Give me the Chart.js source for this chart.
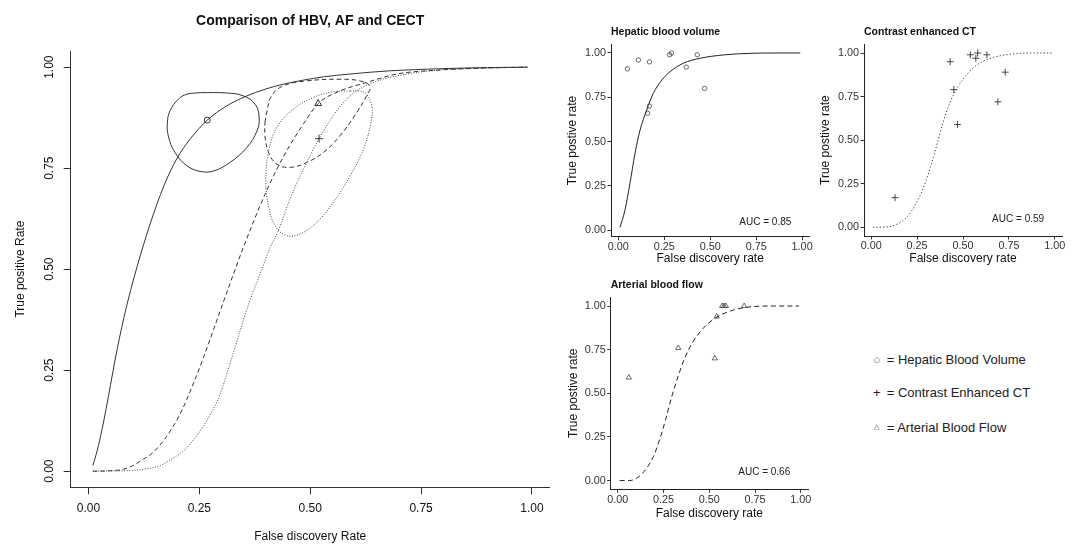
<!DOCTYPE html>
<html>
<head>
<meta charset="utf-8">
<script src="https://cdn.jsdelivr.net/npm/chart.js@4.4.1/dist/chart.umd.min.js"></script>
<style>
  html, body { margin: 0; padding: 0; background: #fff; }
  #page { position: relative; width: 1077px; height: 544px; overflow: hidden; background: #fff;
          font-family: "Liberation Sans", Arial, sans-serif; }
  canvas { position: absolute; }
  .key { position: absolute; left: 886.7px; height: 18px; line-height: 18px; font-size: 13px; color: #222; white-space: nowrap; }
  .sym { position: absolute; left: 871.7px; width: 10px; height: 18px; line-height: 18px; text-align: center; color: #333; }
</style>
</head>
<body>
<div id="page">
  <canvas id="mainChart" width="560" height="544" style="left:0;top:0"></canvas>
  <canvas id="hbvChart" width="260" height="255" style="left:560px;top:15px"></canvas>
  <canvas id="cectChart" width="267" height="255" style="left:810px;top:15px"></canvas>
  <canvas id="afChart" width="260" height="276" style="left:560px;top:268px"></canvas>

  <span class="sym" style="top:350.5px;font-family:'DejaVu Sans';font-size:7px">○</span>
  <span class="key" style="top:350.5px">= Hepatic Blood Volume</span>
  <span class="sym" style="top:383.9px;font-size:13px;color:#222">+</span>
  <span class="key" style="top:383.9px">= Contrast Enhanced CT</span>
  <span class="sym" style="top:418px;font-family:'DejaVu Sans';font-size:7px">△</span>
  <span class="key" style="top:418.5px">= Arterial Blood Flow</span>
</div>
<script>
// ---- values ----
const tickValues = [0, 0.25, 0.5, 0.75, 1];

// main panel: SROC curves
const hbvSrocFdr = [0.01, 0.02, 0.03, 0.04, 0.05, 0.06, 0.07, 0.08, 0.09, 0.1, 0.12, 0.14, 0.17, 0.2, 0.23, 0.268, 0.31, 0.353, 0.4, 0.44, 0.53, 0.59, 0.68, 0.79, 0.9, 0.99];
const hbvSrocTpr = [0.014, 0.052, 0.1, 0.155, 0.215, 0.275, 0.33, 0.38, 0.426, 0.468, 0.545, 0.615, 0.706, 0.775, 0.823, 0.869, 0.903, 0.927, 0.946, 0.958, 0.976, 0.983, 0.991, 0.996, 0.999, 1.0];

const afSrocFdr = [0.01, 0.05, 0.08, 0.101, 0.124, 0.139, 0.169, 0.207, 0.237, 0.259, 0.282, 0.304, 0.327, 0.349, 0.376, 0.398, 0.425, 0.455, 0.485, 0.518, 0.567, 0.627, 0.695, 0.793, 0.9, 0.99];
const afSrocTpr = [0.0, 0.001, 0.005, 0.014, 0.03, 0.04, 0.075, 0.142, 0.218, 0.28, 0.35, 0.418, 0.488, 0.553, 0.628, 0.685, 0.748, 0.808, 0.86, 0.91, 0.941, 0.962, 0.983, 0.993, 0.998, 1.0];

const cectSrocFdr = [0.01, 0.08, 0.12, 0.162, 0.18, 0.214, 0.229, 0.267, 0.297, 0.319, 0.342, 0.364, 0.387, 0.41, 0.428, 0.455, 0.492, 0.52, 0.552, 0.59, 0.642, 0.718, 0.793, 0.9, 0.99];
const cectSrocTpr = [0.0, 0.001, 0.004, 0.014, 0.025, 0.05, 0.067, 0.125, 0.191, 0.265, 0.348, 0.422, 0.488, 0.554, 0.595, 0.675, 0.764, 0.823, 0.88, 0.929, 0.962, 0.983, 0.993, 0.998, 1.0];

// main panel: confidence regions
const hbvRegionFdr = [0.252, 0.312, 0.349, 0.376, 0.385, 0.38, 0.357, 0.319, 0.282, 0.252, 0.222, 0.195, 0.18, 0.178, 0.184, 0.203, 0.222, 0.252];
const hbvRegionTpr = [0.937, 0.936, 0.929, 0.908, 0.875, 0.842, 0.801, 0.764, 0.743, 0.742, 0.756, 0.789, 0.83, 0.863, 0.892, 0.921, 0.933, 0.937];

const afRegionFdr = [0.398, 0.402, 0.413, 0.44, 0.492, 0.567, 0.612, 0.635, 0.627, 0.605, 0.567, 0.53, 0.492, 0.455, 0.425, 0.406, 0.398, 0.398];
const afRegionTpr = [0.863, 0.888, 0.929, 0.954, 0.966, 0.97, 0.966, 0.952, 0.929, 0.888, 0.83, 0.789, 0.764, 0.752, 0.76, 0.789, 0.83, 0.863];

const cectRegionFdr = [0.59, 0.552, 0.507, 0.462, 0.425, 0.406, 0.4, 0.406, 0.421, 0.447, 0.477, 0.515, 0.552, 0.59, 0.62, 0.637, 0.639, 0.627, 0.612, 0.59];
const cectRegionTpr = [0.941, 0.939, 0.925, 0.896, 0.851, 0.789, 0.715, 0.657, 0.607, 0.583, 0.587, 0.616, 0.665, 0.731, 0.797, 0.863, 0.904, 0.933, 0.941, 0.941];

// summary points: HBV, CECT, AF
const summaryFdr = [0.268, 0.52, 0.518];
const summaryTpr = [0.869, 0.823, 0.91];

// small panels: study points and fitted curves
const hbvStudyFdr = [0.05, 0.11, 0.17, 0.28, 0.29, 0.37, 0.43, 0.47, 0.17, 0.16];
const hbvStudyTpr = [0.91, 0.96, 0.95, 0.99, 1.0, 0.92, 0.99, 0.8, 0.7, 0.66];
const hbvFitFdr = [0.01, 0.037, 0.064, 0.0915, 0.119, 0.155, 0.191, 0.237, 0.282, 0.354, 0.445, 0.572, 0.717, 0.85, 0.99];
const hbvFitTpr = [0.015, 0.113, 0.264, 0.433, 0.565, 0.678, 0.772, 0.847, 0.894, 0.942, 0.97, 0.989, 0.998, 1.0, 1.0];

const cectStudyFdr = [0.13, 0.43, 0.45, 0.47, 0.54, 0.57, 0.58, 0.63, 0.69, 0.73];
const cectStudyTpr = [0.17, 0.95, 0.79, 0.59, 0.99, 0.97, 1.0, 0.99, 0.72, 0.89];
const cectFitFdr = [0.01, 0.08, 0.136, 0.19, 0.236, 0.28, 0.318, 0.355, 0.39, 0.427, 0.472, 0.518, 0.573, 0.645, 0.736, 0.88, 0.99];
const cectFitTpr = [0.0, 0.002, 0.015, 0.054, 0.12, 0.215, 0.33, 0.463, 0.597, 0.711, 0.806, 0.873, 0.93, 0.968, 0.99, 1.0, 1.0];

const afStudyFdr = [0.06, 0.33, 0.53, 0.54, 0.57, 0.58, 0.59, 0.69];
const afStudyTpr = [0.59, 0.76, 0.7, 0.94, 1.0, 1.0, 1.0, 1.0];
const afFitFdr = [0.01, 0.063, 0.118, 0.158, 0.195, 0.228, 0.261, 0.292, 0.329, 0.365, 0.411, 0.466, 0.53, 0.613, 0.704, 0.85, 0.99];
const afFitTpr = [0.0, 0.0, 0.025, 0.072, 0.139, 0.234, 0.349, 0.472, 0.596, 0.701, 0.796, 0.872, 0.93, 0.971, 0.993, 1.0, 1.0];

const aucLabels = ['AUC = 0.85', 'AUC = 0.59', 'AUC = 0.66'];

// ---- helpers ----
const FONT = '"Liberation Sans", Arial, sans-serif';
const pts = (xs, ys) => xs.map((x, i) => ({ x: x, y: ys[i] }));
const setTicks = values => scale => { scale.ticks = values.map(v => ({ value: v })); };
const fmt = v => Number(v).toFixed(2);

function curve(xs, ys, dash, color) {
    return { data: pts(xs, ys), showLine: true, borderColor: color, borderWidth: 1, borderDash: dash,
             pointRadius: 0, pointHoverRadius: 0, cubicInterpolationMode: 'monotone', fill: false };
}
function region(xs, ys, dash, color) {
    return { data: pts(xs, ys), showLine: true, borderColor: color, borderWidth: 1, borderDash: dash,
             pointRadius: 0, pointHoverRadius: 0, tension: 0.4, fill: false };
}
function marks(xs, ys, style, r, color, w) {
    return { data: pts(xs, ys), showLine: false, pointStyle: style, pointRadius: r, pointHoverRadius: r,
             borderColor: color, pointBorderColor: color, backgroundColor: 'rgba(0,0,0,0)',
             pointBackgroundColor: 'rgba(0,0,0,0)', pointBorderWidth: w };
}

// AUC note inside each small panel
const aucText = {
    id: 'aucText',
    afterDatasetsDraw(chart, args, opts) {
        if (!opts.text) return;
        const { ctx, scales: { x, y } } = chart;
        ctx.save();
        ctx.font = '10px "Liberation Sans", Arial, sans-serif';
        ctx.fillStyle = '#222';
        ctx.textAlign = 'center';
        ctx.textBaseline = 'middle';
        ctx.fillText(opts.text, x.getPixelForValue(opts.x), y.getPixelForValue(opts.y));
        ctx.restore();
    }
};

// =========================================
// MAIN PANEL
// =========================================
new Chart(document.getElementById('mainChart'), {
    type: 'scatter',
    data: {
        datasets: [
            curve(hbvSrocFdr, hbvSrocTpr, [], '#333'),
            curve(afSrocFdr, afSrocTpr, [4.5, 3], '#333'),
            curve(cectSrocFdr, cectSrocTpr, [1, 1.6], '#444'),
            region(hbvRegionFdr, hbvRegionTpr, [], '#333'),
            region(afRegionFdr, afRegionTpr, [4.5, 3], '#333'),
            region(cectRegionFdr, cectRegionTpr, [1, 1.6], '#444'),
            marks([summaryFdr[0]], [summaryTpr[0]], 'circle', 3, '#333', 1),
            marks([summaryFdr[1]], [summaryTpr[1]], 'cross', 4, '#333', 1),
            marks([summaryFdr[2]], [summaryTpr[2]], 'triangle', 4, '#333', 1)
        ]
    },
    options: {
        animation: false,
        responsive: false,
        events: [],
        layout: { padding: { left: 0, top: 0, right: 10.3, bottom: 0 } },
        plugins: {
            legend: { display: false },
            tooltip: { enabled: false },
            title: {
                display: true, text: 'Comparison of HBV, AF and CECT', fullSize: false,
                color: '#111', font: { family: FONT, size: 14, weight: 'bold' },
                padding: { top: 13, bottom: 21.2 }
            }
        },
        scales: {
            x: {
                type: 'linear', min: -0.04, max: 1.04,
                afterBuildTicks: setTicks(tickValues),
                afterFit: s => { s.height = 56.7; },
                border: { display: true, color: '#333', width: 1 },
                grid: { drawOnChartArea: false, drawTicks: true, tickLength: 7, color: '#333' },
                ticks: { color: '#111', font: { family: FONT, size: 12 }, padding: 7, maxRotation: 0, autoSkip: false, callback: fmt },
                title: { display: true, text: 'False discovery Rate', color: '#111', font: { family: FONT, size: 12 }, padding: { top: 0, bottom: 0 } }
            },
            y: {
                type: 'linear', min: -0.04, max: 1.04,
                afterBuildTicks: setTicks(tickValues),
                afterFit: s => { s.width = 70.7; },
                border: { display: true, color: '#333', width: 1 },
                grid: { drawOnChartArea: false, drawTicks: true, tickLength: 7, color: '#333' },
                ticks: { color: '#111', font: { family: FONT, size: 12 }, padding: 2.8, minRotation: 90, maxRotation: 90, crossAlign: 'center', autoSkip: false, callback: fmt },
                title: { display: true, text: 'True positive Rate', color: '#111', font: { family: FONT, size: 12 }, padding: { top: 13.5, bottom: 0 } }
            }
        }
    }
});

// =========================================
// SMALL PANELS
// =========================================
function panel(id, cfg) {
    return new Chart(document.getElementById(id), {
        type: 'scatter',
        data: { datasets: cfg.datasets },
        plugins: [aucText],
        options: {
            animation: false,
            responsive: false,
            events: [],
            layout: { padding: { left: 0, top: 0, right: cfg.padRight, bottom: 0 } },
            plugins: {
                legend: { display: false },
                tooltip: { enabled: false },
                title: {
                    display: true, text: cfg.title, align: 'start', fullSize: false,
                    color: '#111', font: { family: FONT, size: 10.5, weight: 'bold' },
                    padding: { top: cfg.titleTop, bottom: 29.3 - cfg.titleTop - 12.6 }
                },
                aucText: { text: cfg.auc, x: 0.8, y: 0.045 }
            },
            scales: {
                x: {
                    type: 'linear', min: -0.039, max: 1.039,
                    afterBuildTicks: setTicks(tickValues),
                    afterFit: s => { s.height = cfg.xHeight; },
                    border: { display: true, color: '#222', width: 1 },
                    grid: { drawOnChartArea: false, drawTicks: true, tickLength: 3.5, color: '#333' },
                    ticks: { color: '#333', font: { family: FONT, size: 10.8 }, padding: 0.5, maxRotation: 0, autoSkip: false, callback: fmt },
                    title: { display: true, text: 'False discovery rate', color: '#111', font: { family: FONT, size: 12 }, padding: { top: 0, bottom: cfg.xTitleBottom } }
                },
                y: {
                    type: 'linear', min: cfg.yMin, max: cfg.yMax,
                    afterBuildTicks: setTicks(tickValues),
                    afterFit: s => { s.width = cfg.yWidth; },
                    border: { display: true, color: '#222', width: 1 },
                    grid: { drawOnChartArea: false, drawTicks: true, tickLength: 3.5, color: '#333' },
                    ticks: { color: '#333', font: { family: FONT, size: 10.8 }, padding: 1.5, autoSkip: false, callback: fmt },
                    title: { display: true, text: 'True postive rate', color: '#111', font: { family: FONT, size: 12 }, padding: { top: cfg.yTitleTop, bottom: 0 } }
                }
            }
        }
    });
}

panel('hbvChart', {
    title: 'Hepatic blood volume', auc: aucLabels[0],
    datasets: [
        curve(hbvFitFdr, hbvFitTpr, [], '#222'),
        marks(hbvStudyFdr, hbvStudyTpr, 'circle', 2.2, '#444', 0.8)
    ],
    padRight: 10.7, titleTop: 11, xHeight: 33.3, xTitleBottom: 4.5,
    yWidth: 51, yTitleTop: 5.8, yMin: -0.037, yMax: 1.049
});

panel('cectChart', {
    title: 'Contrast enhanced CT', auc: aucLabels[1],
    datasets: [
        curve(cectFitFdr, cectFitTpr, [1.2, 2.2], '#333'),
        marks(cectStudyFdr, cectStudyTpr, 'cross', 3.5, '#333', 0.9)
    ],
    padRight: 15, titleTop: 11, xHeight: 34, xTitleBottom: 4.5,
    yWidth: 54, yTitleTop: 8.1, yMin: -0.05, yMax: 1.05
});

panel('afChart', {
    title: 'Arterial blood flow', auc: aucLabels[2],
    datasets: [
        curve(afFitFdr, afFitTpr, [5, 3.3], '#222'),
        marks(afStudyFdr, afStudyTpr, 'triangle', 3, '#444', 0.8)
    ],
    padRight: 12, titleTop: 10.7, xHeight: 54.7, xTitleBottom: 22.8,
    yWidth: 50.7, yTitleTop: 6.1, yMin: -0.05, yMax: 1.05
});
</script>
</body>
</html>
